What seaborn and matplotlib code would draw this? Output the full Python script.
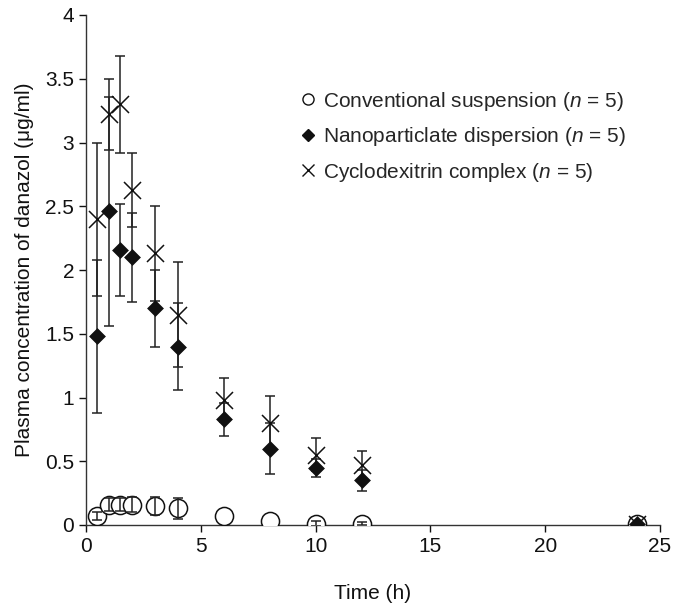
import numpy as np
import pandas as pd
import matplotlib
matplotlib.use("Agg")
import matplotlib.pyplot as plt
from matplotlib.lines import Line2D
import seaborn as sns

# ---- data ----
time = [0.5, 1, 1.5, 2, 3, 4, 6, 8, 10, 12, 24]
conv_mean = [0.07, 0.16, 0.16, 0.16, 0.15, 0.13, 0.07, 0.03, 0.01, 0.01, 0.01]
conv_err = [0.03, 0.05, 0.05, 0.06, 0.07, 0.085, 0.0, 0.0, 0.02, 0.01, 0.0]
nano_mean = [1.48, 2.46, 2.16, 2.10, 1.70, 1.40, 0.83, 0.60, 0.45, 0.35, 0.01]
nano_err = [0.60, 0.90, 0.36, 0.35, 0.30, 0.34, 0.13, 0.20, 0.07, 0.08, 0.0]
cyclo_mean = [2.40, 3.22, 3.30, 2.63, 2.13, 1.65, 0.98, 0.80, 0.55, 0.47, 0.01]
cyclo_err = [0.60, 0.28, 0.38, 0.29, 0.37, 0.41, 0.17, 0.21, 0.13, 0.11, 0.0]
labels = ["Conventional suspension ($\\it{n}$ = 5)",
          "Nanoparticlate dispersion ($\\it{n}$ = 5)",
          "Cyclodexitrin complex ($\\it{n}$ = 5)"]
x_ticks = [0, 5, 10, 15, 20, 25]
y_ticks = [0, 0.5, 1, 1.5, 2, 2.5, 3, 3.5, 4]
y_ticklabels = ["0", "0.5", "1", "1.5", "2", "2.5", "3", "3.5", "4"]

df = pd.DataFrame({
    "time": time * 3,
    "conc": conv_mean + nano_mean + cyclo_mean,
    "err": conv_err + nano_err + cyclo_err,
    "group": [labels[0]] * len(time) + [labels[1]] * len(time) + [labels[2]] * len(time),
})

sns.set_theme(style="ticks")
plt.rcParams["font.family"] = ["Liberation Sans", "DejaVu Sans"]
plt.rcParams["mathtext.fontset"] = "custom"
plt.rcParams["mathtext.it"] = "Liberation Sans:italic"
plt.rcParams["mathtext.rm"] = "Liberation Sans"

FS = 15
fig = plt.figure(figsize=(6.74, 6.05), dpi=100)
ax = fig.add_axes([86 / 674, 80 / 605, (660 - 86) / 674, (525 - 15) / 605])

# error bars (only where an error is present)
for g in labels:
    sub = df[(df["group"] == g) & (df["err"] > 0)]
    ax.errorbar(sub["time"], sub["conc"], yerr=sub["err"], fmt="none",
                ecolor="#222222", elinewidth=1.1, capsize=3.5, capthick=1.1, zorder=3.5)

# circles (hollow)
sub = df[df["group"] == labels[0]]
sns.scatterplot(data=sub, x="time", y="conc", ax=ax, marker="o", s=170,
                facecolor="white", edgecolor="#111111", linewidth=1.1, zorder=3, legend=False)
sub = df[df["group"] == labels[1]]
sns.scatterplot(data=sub, x="time", y="conc", ax=ax, marker="D", s=65,
                color="#111111", edgecolor="#111111", linewidth=0.5, zorder=4, legend=False)
sub = df[df["group"] == labels[2]]
sns.scatterplot(data=sub, x="time", y="conc", ax=ax, marker="x", s=150,
                color="#111111", linewidth=1.1, zorder=5, legend=False)

ax.set_xlim(0, 25)
ax.set_ylim(0, 4)
ax.set_xticks(x_ticks)
ax.set_yticks(y_ticks)
ax.set_yticklabels(y_ticklabels)
ax.tick_params(labelsize=FS, colors="#111111", length=5, width=1, direction="out")
for s in ["top", "right"]:
    ax.spines[s].set_visible(False)
for s in ["left", "bottom"]:
    ax.spines[s].set_color("#333333")
    ax.spines[s].set_linewidth(1)

ax.set_xlabel("Time (h)", fontsize=FS, labelpad=20, color="#111111")
ax.set_ylabel("Plasma concentration of danazol (μg/ml)", fontsize=FS, labelpad=8, color="#111111")

handles = [
    Line2D([], [], linestyle="none", marker="o", markersize=8, markerfacecolor="white",
           markeredgecolor="#111111", markeredgewidth=1),
    Line2D([], [], linestyle="none", marker="D", markersize=6, color="#111111"),
    Line2D([], [], linestyle="none", marker="x", markersize=8, color="#111111", markeredgewidth=1),
]
ax.legend(handles, labels, loc="upper left", bbox_to_anchor=(0.362, 0.87), frameon=False,
          fontsize=FS, handlelength=0.6, handletextpad=0.4, labelspacing=0.6,
          borderaxespad=0)

fig.savefig("out.png", dpi=100)
